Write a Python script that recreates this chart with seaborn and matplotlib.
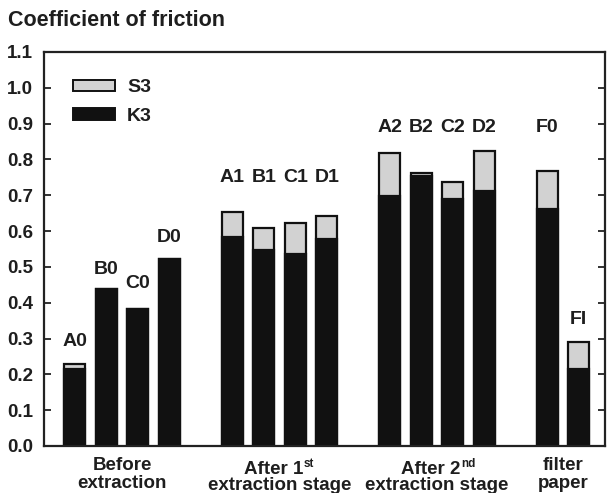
import matplotlib
matplotlib.use("Agg")
import matplotlib.pyplot as plt
import matplotlib.patches as mpatches
import seaborn as sns
import pandas as pd
import numpy as np

# ---- data ----
samples = ["A0", "B0", "C0", "D0", "A1", "B1", "C1", "D1",
           "A2", "B2", "C2", "D2", "F0", "FI"]
group_of = [0, 0, 0, 0, 1, 1, 1, 1, 2, 2, 2, 2, 3, 3]
s3_total = [0.229, 0.437, 0.382, 0.522, 0.652, 0.608, 0.622, 0.643,
            0.819, 0.762, 0.738, 0.824, 0.769, 0.291]
k3_values = [0.214, 0.437, 0.382, 0.522, 0.583, 0.546, 0.536, 0.577,
             0.698, 0.754, 0.689, 0.712, 0.661, 0.214]
label_y = [0.293, 0.492, 0.455, 0.581, 0.749, 0.749, 0.749, 0.749,
           0.888, 0.888, 0.888, 0.888, 0.888, 0.352]
group_line1 = ["Before", "After 1", "After 2", "filter"]
group_sup = ["", "st", "nd", ""]
group_line2 = ["extraction", "extraction stage", "extraction stage", "paper"]
y_ticks = [0.0, 0.1, 0.2, 0.3, 0.4, 0.5, 0.6, 0.7, 0.8, 0.9, 1.0, 1.1]

# positions: 5 slots per group
pos = []
counter = {}
for g in group_of:
    k = counter.get(g, 0)
    pos.append(g * 5 + k)
    counter[g] = k + 1

df = pd.DataFrame({"sample": samples, "pos": pos,
                   "S3": s3_total, "K3": k3_values})

sns.set_theme(style="white")
plt.rcParams["font.family"] = ["Liberation Sans", "DejaVu Sans"]
plt.rcParams["font.weight"] = "bold"

fig = plt.figure(figsize=(6.11, 4.93), dpi=100)
ax = fig.add_axes([44 / 611, 1 - 446 / 493, (605 - 44) / 611, (446 - 52) / 493])

s3_color = "#d2d2d2"
k3_color = "#111111"
txt_color = "#1e1e1e"
sns.barplot(data=df, x="pos", y="S3", native_scale=True, width=0.67,
            color=s3_color, edgecolor="#111111", linewidth=1.6,
            saturation=1, ax=ax, errorbar=None)
sns.barplot(data=df, x="pos", y="K3", native_scale=True, width=0.67,
            color=k3_color, edgecolor="#111111", linewidth=1.6,
            saturation=1, ax=ax, errorbar=None)

for s, p, ly in zip(samples, pos, label_y):
    ax.text(p, ly, s, ha="center", va="center", fontsize=14,
            fontweight="bold", color=txt_color)

ax.set_xlim(-0.98, 16.83)
ax.set_ylim(0, 1.1)
ax.set_yticks(y_ticks)
ax.set_yticklabels([f"{t:.1f}" for t in y_ticks], fontsize=13.5,
                   fontweight="bold", color=txt_color)
ax.set_xticks([])
ax.set_xlabel("")
ax.set_ylabel("")
ax.tick_params(axis="y", direction="in", length=5, width=1.3,
               left=True, right=True, labelleft=True, pad=8, color="#222222")
for sp in ax.spines.values():
    sp.set_visible(True)
    sp.set_linewidth(1.6)
    sp.set_color("#222222")

# group labels below axis (pixel rows from top)
line1_px = [466, 469, 469, 466]
line2_px = [483, 485, 485, 483]
for g in range(4):
    cx = g * 5 + 1.5 if g < 3 else 15.5
    xpx = ax.transData.transform((cx, 0))[0]
    shift = 6 if group_sup[g] else 0
    t1 = fig.text((xpx - shift) / fig.bbox.width, 1 - line1_px[g] / 493,
                  group_line1[g], ha="center", va="center",
                  fontsize=13.5, fontweight="bold", color=txt_color)
    if group_sup[g]:
        ax.annotate(group_sup[g], xy=(1.0, 1.0), xycoords=t1,
                    xytext=(0.5, 1.5), textcoords="offset points",
                    ha="left", va="top", fontsize=8.5, fontweight="bold",
                    color=txt_color, annotation_clip=False)
    fig.text(xpx / fig.bbox.width, 1 - line2_px[g] / 493, group_line2[g],
             ha="center", va="center",
             fontsize=13.5, fontweight="bold", color=txt_color)

handles = [mpatches.Patch(facecolor=s3_color, edgecolor="#111111", linewidth=1.4, label="S3"),
           mpatches.Patch(facecolor=k3_color, edgecolor="#111111", linewidth=1.4, label="K3")]
leg = ax.legend(handles=handles, loc="upper left", bbox_to_anchor=(0.02, 0.975),
                frameon=False, handlelength=2.2, handleheight=0.55,
                handletextpad=0.6, labelspacing=0.6,
                prop={"size": 14, "weight": "bold"})
for t in leg.get_texts():
    t.set_color(txt_color)

fig.text(8 / 611, 1 - 20 / 493, "Coefficient of friction", ha="left", va="center",
         fontsize=15.5, fontweight="bold", color=txt_color)

fig.savefig("out.png", dpi=100)
